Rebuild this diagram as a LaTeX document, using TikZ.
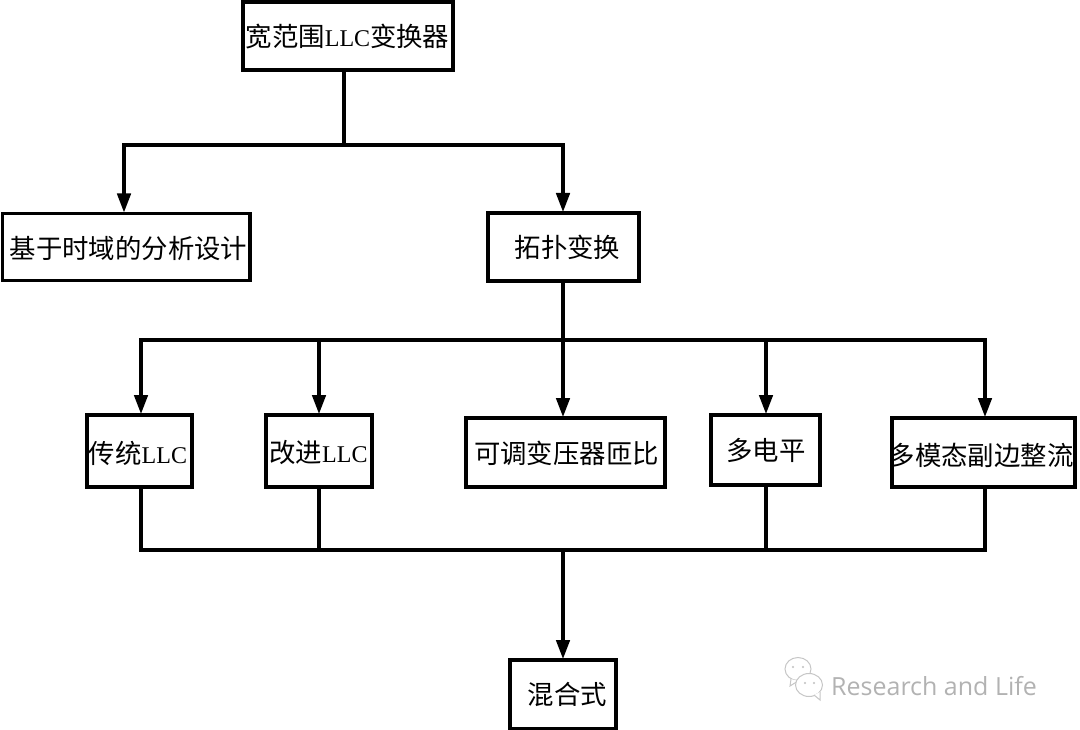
\documentclass[tikz,border=0pt]{standalone}
\usepackage{fontspec}
\setmainfont{Liberation Serif}
\newfontfamily\cjk{Noto Sans CJK SC}
\newfontfamily\wm{Open Sans}
\usetikzlibrary{arrows.meta}
\begin{document}
\begin{tikzpicture}[x=1pt,y=-1pt,
  box/.style={draw=black,line width=3.4pt,fill=white,inner sep=0pt,outer sep=0pt},
  lab/.style={inner sep=0pt,font=\cjk\fontsize{26.4}{26.4}\selectfont},
  wire/.style={draw=black,line width=3.2pt},
  arrow/.style={wire,shorten >=1pt,-{Triangle[length=19pt,width=13.5pt]}},
  icon/.style={draw=gray!45,line width=1pt,fill=white}]
\useasboundingbox (0,0) rectangle (1080,730);
\newcommand{\bx}[5]{\node[box,minimum width=#3 pt-#1 pt,minimum height=#4 pt-#2 pt,anchor=north west] (#5) at (#1,#2) {};}
\newcommand{\llc}{{\rmfamily\fontsize{24}{24}\selectfont LLC}}
\bx{243}{2}{453}{70}{top}
\bx{2.5}{213.5}{250}{280.5}{time}
\bx{488}{213}{639}{281}{topo}
\bx{87}{415}{192}{487}{a}
\bx{266}{415}{372}{487}{b}
\bx{466}{418}{665}{487}{c}
\bx{711}{415}{820}{485}{d}
\bx{892}{418}{1075}{487}{e}
\bx{510}{660}{616}{729}{mix}
\node[lab] (toplab) at (347.5,37) {宽范围\llc 变换器};
\node[lab] (timelab) at (128.5,248) {基于时域的分析设计};
\node[lab] (topolab) at (567.5,247) {拓扑变换};
\node[lab] (alab) at (138,453) {传统\llc};
\node[lab] (blab) at (318.5,453) {改进\llc};
\node[lab] (clab) at (566.5,453) {可调变压器匝比};
\node[lab] (dlab) at (766,450) {多电平};
\node[lab] (elab) at (981,455) {多模态副边整流};
\node[lab] (mixlab) at (567.5,694) {混合式};
\coordinate (s1) at (344,145);
\coordinate (j1) at (124,145);
\coordinate (j2) at (563,145);
\coordinate (s2) at (563,340);
\coordinate (k1) at (141,340);
\coordinate (k2) at (319,340);
\coordinate (k4) at (766,340);
\coordinate (k5) at (985,340);
\coordinate (m1) at (141,550);
\coordinate (m2) at (319,550);
\coordinate (m3) at (563,550);
\coordinate (m4) at (766,550);
\coordinate (m5) at (985,550);
\draw[wire] (top.south-|s1) -- (s1);
\draw[arrow] (s1) -- (j1) -- (j1|-time.north);
\draw[arrow] (s1) -- (j2) -- (j2|-topo.north);
\draw[wire] (j2|-topo.south) -- (s2);
\draw[arrow] (s2) -- (k1) -- (k1|-a.north);
\draw[arrow] (k2) -- (k2|-b.north);
\draw[arrow] (s2) -- (s2|-c.north);
\draw[arrow] (k4) -- (k4|-d.north);
\draw[arrow] (s2) -- (k5) -- (k5|-e.north);
\draw[wire] (k1|-a.south) -- (m1) -- (m5) -- (k5|-e.south);
\draw[wire] (k2|-b.south) -- (m2);
\draw[wire] (k4|-d.south) -- (m4);
\draw[arrow] (m3) -- (m3|-mix.north);
% watermark icon
\draw[icon] (798,669) ellipse (13pt and 11.5pt);
\draw[icon] (791,679) -- (790,686) -- (798,681);
\fill[gray!50] (793,667) circle (1.1pt) (803,667) circle (1.1pt);
\draw[icon] (809,685) ellipse (13.5pt and 11.5pt);
\draw[icon] (814,695) -- (820,700) -- (820,692);
\fill[gray!50] (805,683) circle (1.1pt) (814,683) circle (1.1pt);
\node[font=\wm\fontsize{25}{25}\selectfont,text=gray!60,anchor=west,inner sep=0pt] (w) at (831,686) {Research and Life};
\end{tikzpicture}
\end{document}
